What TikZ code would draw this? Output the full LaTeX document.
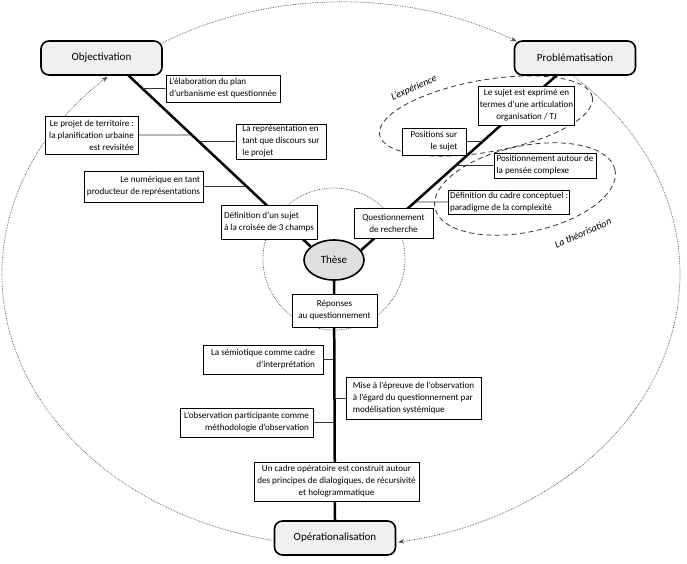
\documentclass[tikz,border=0pt]{standalone}
\usepackage{fontspec}
\setmainfont{Carlito}
\usetikzlibrary{shapes.geometric,arrows.meta,calc}
\begin{document}
\begin{tikzpicture}[x=1pt,y=1pt,
  mainline/.style={line width=2.5pt, black},
  conn/.style={line width=0.9pt, black!80},
  box/.style={draw=black, line width=0.8pt, fill=white, inner sep=1.2pt, font=\fontsize{9.1}{12}\selectfont},
  stage/.style={draw, line width=1.6pt, rounded corners=8pt, fill=gray!12, minimum width=121pt, minimum height=34pt, font=\fontsize{11}{13}\selectfont},
  outer/.style={densely dotted, black!70, line width=0.7pt},
  grp/.style={dash pattern=on 5pt off 3.5pt, line width=0.8pt, black!80},
  lab/.style={font=\fontsize{10}{12}\selectfont\itshape, inner sep=0pt},
  tip/.style={-{Stealth[length=6pt,width=4.5pt]}}
]
\useasboundingbox (0,0) rectangle (687,-563);

% outer cycle
\coordinate (oc) at (341,-274);
\draw[outer,tip] ($(oc)+(121.9:339 and 272)$) arc[start angle=121.9,end angle=58.8,x radius=339,y radius=272];
\draw[outer,tip] ($(oc)+(46.8:339 and 272)$) arc[start angle=46.8,end angle=-80.3,x radius=339,y radius=272];
\draw[outer,tip] ($(oc)+(258.3:339 and 272)$) arc[start angle=258.3,end angle=133.5,x radius=339,y radius=272];

% small circle around these
\draw[outer] (334,-259) circle[radius=71];

% dashed groups
\draw[grp, rotate around={10:(486,-116)}] (486,-116) ellipse[x radius=108, y radius=36];
\draw[grp, rotate around={12:(525,-189)}] (525,-189) ellipse[x radius=92, y radius=43];
\node[lab, rotate=24] (lexp) at (414,-88) {L'expérience};
\node[lab, rotate=24] (ltheo) at (583,-233) {La théorisation};

% stages
\node[stage] (obj) at (101.5,-58) {Objectivation};
\node[stage] (prob) at (575,-58) {Problématisation};
\node[stage] (op) at (335,-538) {Opérationalisation};
\node[ellipse, draw, line width=1.6pt, fill=gray!25, minimum width=60pt, minimum height=40pt, inner sep=0pt, font=\fontsize{11}{13}\selectfont] (these) at (334,-260) {Thèse};

\coordinate (ol) at (128,-75);
\coordinate (pr) at (557,-75);
\coordinate (tl) at (these.150);
\coordinate (tr) at (these.20);

% main Y
\draw[mainline] (ol) -- (tl);
\draw[mainline] (pr) -- (tr);
\draw[mainline] (these.south) -- (op.north);

% boxes
\node[box, align=left, minimum width=114pt, minimum height=27pt] (b1) at (223,-88.5) {L'élaboration du plan\\d'urbanisme est questionnée};
\node[box, align=right, minimum width=93pt, minimum height=38pt] (b2) at (91.5,-135) {Le projet de territoire :\\la planification urbaine\\est revisitée};
\node[box, align=left, minimum width=90pt, minimum height=35pt] (b3) at (281,-141.5) {La représentation en\\tant que discours sur\\le projet};
\node[box, align=right, minimum width=119pt, minimum height=31pt] (b4) at (143.5,-186.5) {Le numérique en tant\\producteur de représentations};
\node[box, align=left, minimum width=96pt, minimum height=34pt] (b5) at (269,-222) {Définition d'un sujet\\à la croisée de 3 champs};
\node[box, align=center, minimum width=79pt, minimum height=30pt] (b6) at (393.5,-223) {Questionnement\\de recherche};
\node[box, align=center, minimum width=85pt, minimum height=33pt] (b7) at (334.5,-310.5) {Réponses\\au questionnement};
\node[box, align=center, minimum width=95pt, minimum height=39pt] (b8) at (526.5,-105.5) {Le sujet est exprimé en\\termes d'une articulation\\organisation / TJ};
\node[box, align=right, minimum width=64pt, minimum height=27pt] (b9) at (434,-141.5) {Positions sur\\le sujet};
\node[box, align=left, minimum width=102pt, minimum height=25pt] (b10) at (545,-165.5) {Positionnement autour de\\la pensée complexe};
\node[box, align=left, minimum width=112pt, minimum height=24pt] (b11) at (509,-202) {Définition du cadre conceptuel :\\paradigme de la complexité};
\node[box, align=right, minimum width=120pt, minimum height=29pt] (b12) at (263,-359.5) {La sémiotique comme cadre\\d'interprétation};
\node[box, align=left, minimum width=135pt, minimum height=42pt] (b13) at (413.5,-398) {Mise à l'épreuve de l'observation\\à l'égard du questionnement par\\modélisation systémique};
\node[box, align=right, minimum width=133pt, minimum height=29pt] (b14) at (246.5,-422.5) {L'observation participante comme\\méthodologie d'observation};
\node[box, align=center, minimum width=165pt, minimum height=39pt] (b15) at (336.5,-481.5) {Un cadre opératoire est construit autour\\des principes de dialogiques, de récursivité\\et hologrammatique};

% connectors
\draw[conn] (b1.west) -- (intersection of ol--tl and b1.west--b1.east);
\draw[conn] (b2.east) -- (intersection of ol--tl and b2.west--b2.east);
\draw[conn] (b3.west) -- (intersection of ol--tl and b3.west--b3.east);
\draw[conn] (b4.east) -- (intersection of ol--tl and b4.west--b4.east);
\draw[conn] (b9.east) -- (intersection of pr--tr and b9.west--b9.east);
\draw[conn] (b10.west) -- (intersection of pr--tr and b10.west--b10.east);
\draw[conn] (b11.west) -- (intersection of pr--tr and b11.west--b11.east);
\draw[conn] (b12.east) -- (b12.east -| these.south);
\draw[conn] (b13.west) -- (b13.west -| these.south);
\draw[conn] (b14.east) -- (b14.east -| these.south);
\end{tikzpicture}
\end{document}
